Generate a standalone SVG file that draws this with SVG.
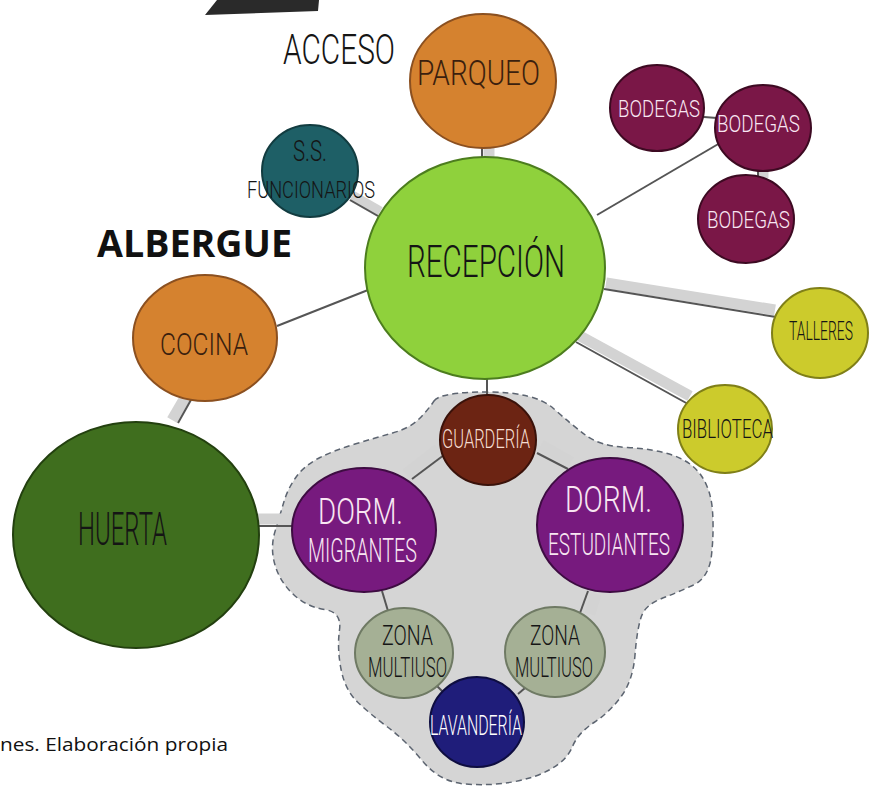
<svg xmlns="http://www.w3.org/2000/svg" width="877" height="786" viewBox="0 0 877 786">
<style>
.d{font-family:Roboto,"DejaVu Sans",sans-serif;font-weight:300;text-anchor:middle}
.band{stroke:#d3d3d3;stroke-width:11;fill:none}
.ln{stroke:#555;stroke-width:2;fill:none}
.n{stroke-width:2}
.orange{fill:#d5822f;stroke:#8b5020}
.teal{fill:#1e5f66;stroke:#123c40}
.lime{fill:#8fd13c;stroke:#4c7d1e}
.maroon{fill:#7a1747;stroke:#3d0a22}
.yellow{fill:#cccb2c;stroke:#7f7f18}
.dkgreen{fill:#3f6e1e;stroke:#23400f}
.brown{fill:#6c2413;stroke:#3a120a}
.purple{fill:#771a7e;stroke:#3e0c42}
.sage{fill:#a5b095;stroke:#6f7a64}
.navy{fill:#1f1d7a;stroke:#0e0d40}
.dark{fill:#151515}
.light{fill:#f8e6f2}
</style>
<rect width="877" height="786" fill="#ffffff"/>
<polygon points="217,0 319,0 318,11 205,15" fill="#2a2a2a"/>
<text x="339" y="64" class="d dark" font-size="42" textLength="112" lengthAdjust="spacingAndGlyphs">ACCESO</text>
<text x="97" y="257" font-family="'Open Sans','DejaVu Sans',sans-serif" font-weight="700" font-size="37" fill="#111" textLength="195" lengthAdjust="spacingAndGlyphs">ALBERGUE</text>
<text x="0" y="751" font-family="'Open Sans','DejaVu Sans',sans-serif" font-size="19" fill="#111" textLength="228" lengthAdjust="spacingAndGlyphs">nes. Elaboración propia</text>
<path id="zone" d="M434,401 Q440,392 487.5,392 Q535,392 553.5,408.5 Q572,425 586,435.5 Q600,446 627.5,447.5 Q655,449 673.5,455.5 Q692,462 701.5,476 Q711,490 712.5,511 Q714,532 711.5,555 Q709,578 692.5,585.5 Q676,593 660.5,599 Q645,605 641,617.5 Q637,630 635,655 Q633,680 621.5,696 Q610,712 594,722.5 Q578,733 572.5,746.5 Q567,760 551,769 Q535,778 512.5,782 Q490,786 465,784 Q440,782 422.5,761 Q405,740 387.5,727 Q370,714 357.5,702 Q345,690 341,669 Q337,648 339.5,630 Q342,612 324.5,609.5 Q307,607 293.5,594.5 Q280,582 275,565 Q270,548 275,531.5 Q280,515 284,501.5 Q288,488 296.5,476.5 Q305,465 320,457.5 Q335,450 355,444 Q375,438 392.5,433 Q410,428 419,419 Q428,410 434,401 Z" fill="#d5d5d5" stroke="#5c6470" stroke-width="1.5" stroke-dasharray="6 4"/>
<g id="connectors">
<line class="band" x1="489" y1="143" x2="489" y2="162"/><line class="ln" x1="482" y1="145" x2="482" y2="160"/>
<line class="band" x1="352" y1="196" x2="380" y2="212"/><line class="ln" x1="350" y1="200" x2="378" y2="216"/>
<line class="ln" x1="597" y1="215" x2="720" y2="143" stroke="#888"/>
<line class="ln" x1="704" y1="117" x2="717" y2="118"/>
<line class="band" x1="763" y1="168" x2="763" y2="178"/><line class="ln" x1="758" y1="168" x2="758" y2="177"/>
<line class="band" x1="606" y1="283" x2="775" y2="310"/><line class="ln" x1="604" y1="289" x2="776" y2="317"/>
<line class="band" x1="580" y1="336" x2="690" y2="396"/><line class="ln" x1="576" y1="342" x2="688" y2="404"/>
<line class="ln" x1="277" y1="326" x2="368" y2="290"/>
<line class="ln" x1="487" y1="376" x2="487" y2="397"/>
<line class="band" x1="172" y1="420" x2="186" y2="396"/><line class="ln" x1="178" y1="423" x2="192" y2="398"/>
<line class="band" x1="256" y1="519" x2="294" y2="519"/><line class="ln" x1="256" y1="526" x2="294" y2="526"/>
<line class="band" x1="438" y1="449" x2="406" y2="474"/><line class="ln" x1="444" y1="455" x2="412" y2="479"/>
<line class="band" x1="541" y1="445" x2="571" y2="462"/><line class="ln" x1="537" y1="453" x2="568" y2="469"/>
<line class="ln" x1="382" y1="591" x2="388" y2="611"/>
<line class="band" x1="596" y1="594" x2="590" y2="614"/><line class="ln" x1="588" y1="591" x2="580" y2="613"/>
<line class="ln" x1="437" y1="686" x2="444" y2="693"/>
<line class="ln" x1="525" y1="688" x2="518" y2="694"/>
</g>
<g id="parqueo"><ellipse class="n orange" cx="483" cy="81" rx="73" ry="67"/><text class="d" x="478.5" y="85" font-size="35" fill="#3b1f0e" textLength="123" lengthAdjust="spacingAndGlyphs">PARQUEO</text></g>
<g id="ss-funcionarios"><ellipse class="n teal" cx="310" cy="171" rx="48" ry="46"/><text class="d dark" x="310" y="161" font-size="30" textLength="34" lengthAdjust="spacingAndGlyphs">S.S.</text><text class="d dark" x="311" y="198" font-size="24" textLength="128" lengthAdjust="spacingAndGlyphs">FUNCIONARIOS</text></g>
<g id="recepcion"><ellipse class="n lime" cx="485" cy="268" rx="120" ry="111"/><text class="d dark" x="486" y="277" font-size="45" textLength="158" lengthAdjust="spacingAndGlyphs">RECEPCIÓN</text></g>
<g id="bodegas1"><ellipse class="n maroon" cx="657" cy="108" rx="47" ry="43"/><text class="d light" x="659" y="117" font-size="24" textLength="82" lengthAdjust="spacingAndGlyphs">BODEGAS</text></g>
<g id="bodegas2"><ellipse class="n maroon" cx="763" cy="128" rx="48" ry="43"/><text class="d light" x="758.5" y="132" font-size="24" textLength="83" lengthAdjust="spacingAndGlyphs">BODEGAS</text></g>
<g id="bodegas3"><ellipse class="n maroon" cx="746" cy="219" rx="48" ry="44"/><text class="d light" x="748.5" y="228" font-size="24" textLength="83" lengthAdjust="spacingAndGlyphs">BODEGAS</text></g>
<g id="talleres"><ellipse class="n yellow" cx="820" cy="333" rx="48" ry="45"/><text class="d dark" x="821" y="340" font-size="25" textLength="64" lengthAdjust="spacingAndGlyphs">TALLERES</text></g>
<g id="biblioteca"><ellipse class="n yellow" cx="725" cy="429" rx="47" ry="44"/><text class="d dark" x="727.5" y="438" font-size="25" textLength="91" lengthAdjust="spacingAndGlyphs">BIBLIOTECA</text></g>
<g id="cocina"><ellipse class="n orange" cx="205" cy="338" rx="72" ry="63"/><text class="d" x="204" y="355" font-size="32" fill="#3b1f0e" textLength="88" lengthAdjust="spacingAndGlyphs">COCINA</text></g>
<g id="huerta"><ellipse class="n dkgreen" cx="136" cy="535" rx="123" ry="113"/><text class="d dark" x="122.5" y="545" font-size="46" textLength="89" lengthAdjust="spacingAndGlyphs">HUERTA</text></g>
<g id="guarderia"><ellipse class="n brown" cx="488" cy="440" rx="48" ry="45"/><text class="d" x="486" y="448" font-size="25" fill="#f5dcd0" textLength="88" lengthAdjust="spacingAndGlyphs">GUARDERÍA</text></g>
<g id="dorm-migrantes"><ellipse class="n purple" cx="364" cy="530" rx="72" ry="62"/><text class="d light" x="360.5" y="524" font-size="37" textLength="85" lengthAdjust="spacingAndGlyphs">DORM.</text><text class="d light" x="362.5" y="562" font-size="33" textLength="109" lengthAdjust="spacingAndGlyphs">MIGRANTES</text></g>
<g id="dorm-estudiantes"><ellipse class="n purple" cx="610" cy="525" rx="73" ry="67"/><text class="d light" x="608.5" y="512" font-size="36" textLength="87" lengthAdjust="spacingAndGlyphs">DORM.</text><text class="d light" x="609" y="555" font-size="32" textLength="122" lengthAdjust="spacingAndGlyphs">ESTUDIANTES</text></g>
<g id="zona-multiuso-1"><ellipse class="n sage" cx="404" cy="653" rx="49" ry="45"/><text class="d dark" x="407.5" y="645" font-size="28" textLength="51" lengthAdjust="spacingAndGlyphs">ZONA</text><text class="d dark" x="407.5" y="677" font-size="28" textLength="79" lengthAdjust="spacingAndGlyphs">MULTIUSO</text></g>
<g id="zona-multiuso-2"><ellipse class="n sage" cx="555" cy="652" rx="50" ry="45"/><text class="d dark" x="555" y="645" font-size="28" textLength="50" lengthAdjust="spacingAndGlyphs">ZONA</text><text class="d dark" x="554" y="677" font-size="28" textLength="78" lengthAdjust="spacingAndGlyphs">MULTIUSO</text></g>
<g id="lavanderia"><ellipse class="n navy" cx="477" cy="722" rx="47" ry="45"/><text class="d" x="476" y="735" font-size="28" fill="#ffffff" textLength="92" lengthAdjust="spacingAndGlyphs">LAVANDERÍA</text></g>
</svg>
